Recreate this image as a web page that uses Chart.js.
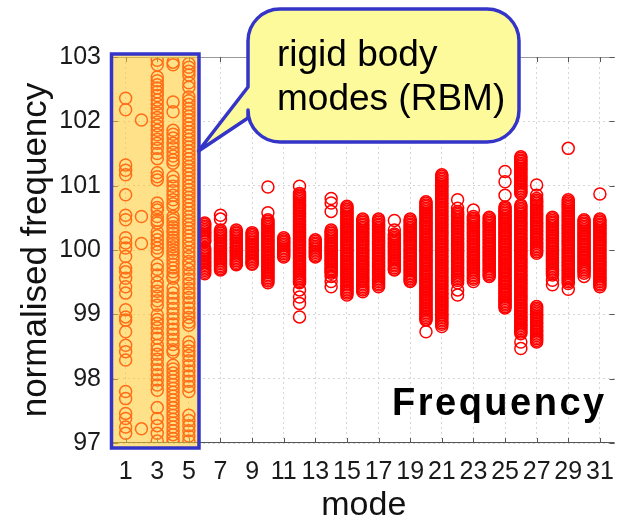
<!DOCTYPE html>
<html>
<head>
<meta charset="utf-8">
<script src="https://cdn.jsdelivr.net/npm/chart.js@4"></script>
<style>
  body { margin: 0; background: #fff; }
  #wrap { width: 628px; height: 520px; }
</style>
</head>
<body>
<div id="wrap"><canvas id="chart" width="628" height="520"></canvas></div>
<script>
// tick labels
const modeTicks = [1, 3, 5, 7, 9, 11, 13, 15, 17, 19, 21, 23, 25, 27, 29, 31];
const freqTicks = [97, 98, 99, 100, 101, 102, 103];

// normalised frequency samples per mode
// rigid body modes 1-5
const m1 = [102.36, 102.18, 101.32, 101.24, 101.17, 100.86, 100.54, 100.47, 100.19, 100.11, 100.03, 99.90, 99.72, 99.66, 99.56, 99.43, 99.33, 99.07, 98.96, 98.91, 98.73, 98.52, 98.42, 98.29, 97.80, 97.69, 97.46, 97.38, 97.25, 97.15];
const m2 = [102.02, 100.52, 100.10, 97.22];
const m3 = [102.95, 102.88, 102.69, 102.63, 102.57, 102.52, 102.46, 102.40, 102.33, 102.27, 102.20, 102.13, 102.06, 101.99, 101.93, 101.86, 101.79, 101.72, 101.66, 101.58, 101.50, 101.42, 101.20, 101.14, 101.09, 100.73, 100.66, 100.62, 100.52, 100.46, 100.42, 100.28, 100.22, 100.16, 100.09, 100.03, 99.97, 99.77, 99.70, 99.61, 99.50, 99.43, 99.36, 99.28, 99.21, 99.14, 98.99, 98.92, 98.86, 98.79, 98.70, 98.63, 98.52, 98.45, 98.38, 98.30, 98.22, 98.14, 98.06, 97.98, 97.90, 97.82, 97.55, 97.38, 97.27, 97.15, 97.03];
const m4 = [102.92, 102.88, 102.30, 102.15, 101.86, 101.80, 101.74, 101.66, 101.59, 101.52, 101.46, 101.40, 101.35, 101.14, 101.07, 100.99, 100.92, 100.85, 100.78, 100.72, 100.67, 100.52, 100.47, 100.42, 100.36, 100.31, 100.26, 100.20, 100.15, 100.10, 100.05, 100.00, 99.95, 99.90, 99.84, 99.78, 99.72, 99.66, 99.60, 99.56, 99.41, 99.33, 99.25, 99.17, 99.09, 99.01, 98.93, 98.85, 98.77, 98.69, 98.61, 98.53, 98.45, 98.41, 98.21, 98.15, 98.09, 98.03, 97.97, 97.91, 97.85, 97.79, 97.73, 97.67, 97.61, 97.55, 97.49, 97.43, 97.37, 97.31, 97.25, 97.19, 97.13, 97.07, 97.01];
const m5 = [102.90, 102.84, 102.78, 102.72, 102.60, 102.53, 102.38, 102.32, 102.26, 102.20, 102.14, 102.08, 102.02, 101.96, 101.90, 101.84, 101.78, 101.72, 101.66, 101.60, 101.54, 101.48, 101.42, 101.36, 101.30, 101.24, 101.18, 101.12, 101.06, 101.00, 100.94, 100.88, 100.82, 100.76, 100.70, 100.64, 100.58, 100.52, 100.46, 100.40, 100.34, 100.28, 100.22, 100.16, 100.10, 100.04, 99.97, 99.90, 99.82, 99.77, 99.70, 99.62, 99.55, 99.48, 99.40, 99.33, 99.26, 99.18, 99.10, 99.02, 98.95, 98.88, 98.83, 98.57, 98.50, 98.43, 98.36, 98.28, 98.20, 98.12, 98.04, 97.96, 97.88, 97.80, 97.43, 97.35, 97.27, 97.19, 97.11, 97.03];
// elastic modes 6-31
const m6 = [100.42, 100.395, 100.37, 100.345, 100.32, 100.295, 100.27, 100.245, 100.22, 100.195, 100.17, 100.145, 100.13, 100.03, 100.005, 99.98, 99.955, 99.93, 99.905, 99.88, 99.855, 99.83, 99.805, 99.78, 99.755, 99.73, 99.705, 99.68, 99.655, 99.63];
const m7 = [100.54, 100.48, 100.31, 100.285, 100.26, 100.235, 100.21, 100.185, 100.16, 100.135, 100.11, 100.085, 100.06, 100.035, 100.01, 99.985, 99.96, 99.935, 99.91, 99.885, 99.86, 99.835, 99.81, 99.785, 99.76, 99.735, 99.71, 99.69];
const m8 = [100.31, 100.285, 100.26, 100.235, 100.21, 100.185, 100.16, 100.135, 100.11, 100.085, 100.06, 100.035, 100.01, 99.985, 99.96, 99.935, 99.91, 99.885, 99.86, 99.835, 99.81, 99.785, 99.77];
const m9 = [100.27, 100.245, 100.22, 100.195, 100.17, 100.145, 100.12, 100.095, 100.07, 100.045, 100.02, 99.995, 99.97, 99.945, 99.92, 99.895, 99.87, 99.845, 99.82, 99.795, 99.78];
const m10 = [100.98, 100.58, 100.47, 100.445, 100.42, 100.395, 100.37, 100.345, 100.32, 100.295, 100.27, 100.245, 100.22, 100.195, 100.17, 100.145, 100.12, 100.095, 100.07, 100.045, 100.02, 99.995, 99.97, 99.945, 99.92, 99.895, 99.87, 99.845, 99.82, 99.795, 99.77, 99.745, 99.72, 99.695, 99.67, 99.645, 99.62, 99.595, 99.57, 99.545, 99.52, 99.49];
const m11 = [100.19, 100.165, 100.14, 100.115, 100.09, 100.065, 100.04, 100.015, 99.99, 99.965, 99.94, 99.915, 99.89];
const m12 = [100.99, 100.88, 100.855, 100.83, 100.805, 100.78, 100.755, 100.73, 100.705, 100.68, 100.655, 100.63, 100.605, 100.58, 100.555, 100.53, 100.505, 100.48, 100.455, 100.43, 100.405, 100.38, 100.355, 100.33, 100.305, 100.28, 100.255, 100.23, 100.205, 100.18, 100.155, 100.13, 100.105, 100.08, 100.055, 100.03, 100.005, 99.98, 99.955, 99.93, 99.905, 99.88, 99.855, 99.83, 99.805, 99.78, 99.755, 99.73, 99.705, 99.68, 99.655, 99.63, 99.605, 99.58, 99.555, 99.53, 99.505, 99.49, 99.38, 99.27, 99.17, 98.96];
const m13 = [100.16, 100.135, 100.11, 100.085, 100.06, 100.035, 100.01, 99.985, 99.96, 99.935, 99.91, 99.89];
const m14 = [100.80, 100.73, 100.60, 100.31, 100.285, 100.26, 100.235, 100.21, 100.185, 100.16, 100.135, 100.11, 100.085, 100.06, 100.035, 100.01, 99.985, 99.96, 99.935, 99.91, 99.885, 99.86, 99.835, 99.81, 99.785, 99.76, 99.735, 99.71, 99.685, 99.66, 99.64, 99.59, 99.51, 99.43];
const m15 = [100.68, 100.655, 100.63, 100.605, 100.58, 100.555, 100.53, 100.505, 100.48, 100.455, 100.43, 100.405, 100.38, 100.355, 100.33, 100.305, 100.28, 100.255, 100.23, 100.205, 100.18, 100.155, 100.13, 100.105, 100.08, 100.055, 100.03, 100.005, 99.98, 99.955, 99.93, 99.905, 99.88, 99.855, 99.83, 99.805, 99.78, 99.755, 99.73, 99.705, 99.68, 99.655, 99.63, 99.605, 99.58, 99.555, 99.53, 99.505, 99.48, 99.455, 99.43, 99.405, 99.38, 99.355, 99.33, 99.30];
const m16 = [100.48, 100.455, 100.43, 100.405, 100.38, 100.355, 100.33, 100.305, 100.28, 100.255, 100.23, 100.205, 100.18, 100.155, 100.13, 100.105, 100.08, 100.055, 100.03, 100.005, 99.98, 99.955, 99.93, 99.905, 99.88, 99.855, 99.83, 99.805, 99.78, 99.755, 99.73, 99.705, 99.68, 99.655, 99.63, 99.605, 99.58, 99.555, 99.53, 99.505, 99.48, 99.455, 99.43, 99.405, 99.38, 99.35];
const m17 = [100.48, 100.455, 100.43, 100.405, 100.38, 100.355, 100.33, 100.305, 100.28, 100.255, 100.23, 100.205, 100.18, 100.155, 100.13, 100.105, 100.08, 100.055, 100.03, 100.005, 99.98, 99.955, 99.93, 99.905, 99.88, 99.855, 99.83, 99.805, 99.78, 99.755, 99.73, 99.705, 99.68, 99.655, 99.63, 99.605, 99.58, 99.555, 99.53, 99.505, 99.48, 99.455, 99.43];
const m18 = [100.46, 100.31, 100.25, 100.225, 100.20, 100.175, 100.15, 100.125, 100.10, 100.075, 100.05, 100.025, 100.00, 99.975, 99.95, 99.925, 99.90, 99.875, 99.85, 99.825, 99.80, 99.775, 99.75, 99.725, 99.70, 99.69];
const m19 = [100.48, 100.455, 100.43, 100.405, 100.38, 100.355, 100.33, 100.305, 100.28, 100.255, 100.23, 100.205, 100.18, 100.155, 100.13, 100.105, 100.08, 100.055, 100.03, 100.005, 99.98, 99.955, 99.93, 99.905, 99.88, 99.855, 99.83, 99.805, 99.78, 99.755, 99.73, 99.705, 99.68, 99.655, 99.63, 99.605, 99.58, 99.555, 99.53, 99.51];
const m20 = [100.75, 100.725, 100.70, 100.675, 100.65, 100.625, 100.60, 100.575, 100.55, 100.525, 100.50, 100.475, 100.45, 100.425, 100.40, 100.375, 100.35, 100.325, 100.30, 100.275, 100.25, 100.225, 100.20, 100.175, 100.15, 100.125, 100.10, 100.075, 100.05, 100.025, 100.00, 99.975, 99.95, 99.925, 99.90, 99.875, 99.85, 99.825, 99.80, 99.775, 99.75, 99.725, 99.70, 99.675, 99.65, 99.625, 99.60, 99.575, 99.55, 99.525, 99.50, 99.475, 99.45, 99.425, 99.40, 99.375, 99.35, 99.325, 99.30, 99.275, 99.25, 99.225, 99.20, 99.175, 99.15, 99.125, 99.10, 99.075, 99.05, 99.025, 99.00, 98.975, 98.95, 98.925, 98.91, 98.73];
const m21 = [101.17, 101.145, 101.12, 101.095, 101.07, 101.045, 101.02, 100.995, 100.97, 100.945, 100.92, 100.895, 100.87, 100.845, 100.82, 100.795, 100.77, 100.745, 100.72, 100.695, 100.67, 100.645, 100.62, 100.595, 100.57, 100.545, 100.52, 100.495, 100.47, 100.445, 100.42, 100.395, 100.37, 100.345, 100.32, 100.295, 100.27, 100.245, 100.22, 100.195, 100.17, 100.145, 100.12, 100.095, 100.07, 100.045, 100.02, 99.995, 99.97, 99.945, 99.92, 99.895, 99.87, 99.845, 99.82, 99.795, 99.77, 99.745, 99.72, 99.695, 99.67, 99.645, 99.62, 99.595, 99.57, 99.545, 99.52, 99.495, 99.47, 99.445, 99.42, 99.395, 99.37, 99.345, 99.32, 99.295, 99.27, 99.245, 99.22, 99.195, 99.17, 99.145, 99.12, 99.095, 99.07, 99.045, 99.02, 98.995, 98.97, 98.945, 98.92, 98.895, 98.87, 98.845, 98.81];
const m22 = [100.78, 100.65, 100.60, 100.575, 100.55, 100.525, 100.50, 100.475, 100.45, 100.425, 100.40, 100.375, 100.35, 100.325, 100.30, 100.275, 100.25, 100.225, 100.20, 100.175, 100.15, 100.125, 100.10, 100.075, 100.05, 100.025, 100.00, 99.975, 99.95, 99.925, 99.90, 99.875, 99.85, 99.825, 99.80, 99.775, 99.75, 99.725, 99.70, 99.675, 99.65, 99.625, 99.60, 99.575, 99.55, 99.525, 99.49, 99.38, 99.30];
const m23 = [100.62, 100.52, 100.495, 100.47, 100.445, 100.42, 100.395, 100.37, 100.345, 100.32, 100.295, 100.27, 100.245, 100.22, 100.195, 100.17, 100.145, 100.12, 100.095, 100.07, 100.045, 100.02, 99.995, 99.97, 99.945, 99.92, 99.895, 99.87, 99.845, 99.82, 99.795, 99.77, 99.745, 99.72, 99.695, 99.67, 99.645, 99.62, 99.595, 99.57, 99.545, 99.51];
const m24 = [100.51, 100.485, 100.46, 100.435, 100.41, 100.385, 100.36, 100.335, 100.31, 100.285, 100.26, 100.235, 100.21, 100.185, 100.16, 100.135, 100.11, 100.085, 100.06, 100.035, 100.01, 99.985, 99.96, 99.935, 99.91, 99.885, 99.86, 99.835, 99.81, 99.785, 99.76, 99.735, 99.71, 99.685, 99.66, 99.635, 99.61, 99.59];
const m25 = [101.22, 101.06, 100.85, 100.67, 100.645, 100.62, 100.595, 100.57, 100.545, 100.52, 100.495, 100.47, 100.445, 100.42, 100.395, 100.37, 100.345, 100.32, 100.295, 100.27, 100.245, 100.22, 100.195, 100.17, 100.145, 100.12, 100.095, 100.07, 100.045, 100.02, 99.995, 99.97, 99.945, 99.92, 99.895, 99.87, 99.845, 99.82, 99.795, 99.77, 99.745, 99.72, 99.695, 99.67, 99.645, 99.62, 99.595, 99.57, 99.545, 99.52, 99.495, 99.47, 99.445, 99.42, 99.395, 99.37, 99.345, 99.32, 99.295, 99.27, 99.245, 99.22, 99.195, 99.17, 99.145, 99.12, 99.10];
const m26 = [101.45, 101.425, 101.40, 101.375, 101.35, 101.325, 101.30, 101.275, 101.25, 101.225, 101.20, 101.175, 101.15, 101.125, 101.10, 101.075, 101.05, 101.025, 101.00, 100.975, 100.95, 100.925, 100.90, 100.88, 100.70, 100.675, 100.65, 100.625, 100.60, 100.575, 100.55, 100.525, 100.50, 100.475, 100.45, 100.425, 100.40, 100.375, 100.35, 100.325, 100.30, 100.275, 100.25, 100.225, 100.20, 100.175, 100.15, 100.125, 100.10, 100.075, 100.05, 100.025, 100.00, 99.975, 99.95, 99.925, 99.90, 99.875, 99.85, 99.825, 99.80, 99.775, 99.75, 99.725, 99.70, 99.675, 99.65, 99.625, 99.60, 99.575, 99.55, 99.525, 99.50, 99.475, 99.45, 99.425, 99.40, 99.375, 99.35, 99.325, 99.30, 99.275, 99.25, 99.225, 99.20, 99.175, 99.15, 99.125, 99.10, 99.075, 99.05, 99.025, 99.00, 98.975, 98.95, 98.925, 98.90, 98.875, 98.85, 98.825, 98.80, 98.775, 98.75, 98.725, 98.70, 98.57, 98.47];
const m27 = [101.01, 100.85, 100.80, 100.775, 100.75, 100.725, 100.70, 100.675, 100.65, 100.625, 100.60, 100.575, 100.55, 100.525, 100.50, 100.475, 100.45, 100.425, 100.40, 100.375, 100.35, 100.325, 100.30, 100.275, 100.25, 100.225, 100.20, 100.175, 100.15, 100.125, 100.10, 100.075, 100.05, 100.025, 100.00, 99.975, 99.95, 99.12, 99.095, 99.07, 99.045, 99.02, 98.995, 98.97, 98.945, 98.92, 98.895, 98.87, 98.845, 98.82, 98.795, 98.77, 98.745, 98.72, 98.695, 98.67, 98.645, 98.62, 98.595, 98.57];
const m28 = [100.51, 100.485, 100.46, 100.435, 100.41, 100.385, 100.36, 100.335, 100.31, 100.285, 100.26, 100.235, 100.21, 100.185, 100.16, 100.135, 100.11, 100.085, 100.06, 100.035, 100.01, 99.985, 99.96, 99.935, 99.91, 99.885, 99.86, 99.835, 99.81, 99.785, 99.76, 99.735, 99.71, 99.685, 99.66, 99.635, 99.61, 99.53, 99.46];
const m29 = [101.58, 100.78, 100.755, 100.73, 100.705, 100.68, 100.655, 100.63, 100.605, 100.58, 100.555, 100.53, 100.505, 100.48, 100.455, 100.43, 100.405, 100.38, 100.355, 100.33, 100.305, 100.28, 100.255, 100.23, 100.205, 100.18, 100.155, 100.13, 100.105, 100.08, 100.055, 100.03, 100.005, 99.98, 99.955, 99.93, 99.905, 99.88, 99.855, 99.83, 99.805, 99.78, 99.755, 99.73, 99.705, 99.68, 99.655, 99.63, 99.605, 99.58, 99.555, 99.53, 99.505, 99.48, 99.39];
const m30 = [100.47, 100.445, 100.42, 100.395, 100.37, 100.345, 100.32, 100.295, 100.27, 100.245, 100.22, 100.195, 100.17, 100.145, 100.12, 100.095, 100.07, 100.045, 100.02, 99.995, 99.97, 99.945, 99.92, 99.895, 99.87, 99.845, 99.82, 99.795, 99.77, 99.745, 99.72, 99.695, 99.67, 99.64, 99.59];
const m31 = [100.87, 100.48, 100.455, 100.43, 100.405, 100.38, 100.355, 100.33, 100.305, 100.28, 100.255, 100.23, 100.205, 100.18, 100.155, 100.13, 100.105, 100.08, 100.055, 100.03, 100.005, 99.98, 99.955, 99.93, 99.905, 99.88, 99.855, 99.83, 99.805, 99.78, 99.755, 99.73, 99.705, 99.68, 99.655, 99.63, 99.605, 99.58, 99.555, 99.53, 99.505, 99.48, 99.455, 99.43];

const modeSamples = [m1, m2, m3, m4, m5, m6, m7, m8, m9, m10, m11, m12, m13, m14, m15, m16,
  m17, m18, m19, m20, m21, m22, m23, m24, m25, m26, m27, m28, m29, m30, m31];

const points = [];
modeSamples.forEach((vals, i) => {
  vals.forEach(v => points.push({ x: i + 1, y: v }));
});

const BLUE = '#3434c8';
const FONT = 'Liberation Sans, Arial, sans-serif';

// frame, inward ticks, RBM box, callout and label
const overlay = {
  id: 'overlay',
  afterDatasetsDraw(chart) {
    const { ctx, chartArea: a, scales: { x, y } } = chart;
    ctx.save();
    // frame (right edge sits just outside the canvas)
    ctx.lineWidth = 1;
    ctx.strokeStyle = '#999';
    ctx.beginPath();
    ctx.moveTo(a.left, a.top + 0.5); ctx.lineTo(a.right, a.top + 0.5);
    ctx.stroke();
    ctx.strokeStyle = '#555';
    ctx.beginPath();
    ctx.moveTo(a.left, a.bottom - 0.5); ctx.lineTo(a.right, a.bottom - 0.5);
    modeTicks.forEach(t => {
      const px = Math.round(x.getPixelForValue(t)) + 0.5;
      ctx.moveTo(px, a.bottom); ctx.lineTo(px, a.bottom - 5);
      ctx.moveTo(px, a.top); ctx.lineTo(px, a.top + 5);
    });
    freqTicks.forEach(t => {
      const py = Math.round(y.getPixelForValue(t)) + 0.5;
      ctx.moveTo(a.left, py); ctx.lineTo(a.left + 5, py);
      ctx.moveTo(a.right, py); ctx.lineTo(a.right - 5, py);
    });
    ctx.stroke();

    // rigid body modes box
    const bx1 = a.left - 1.5;
    const bx2 = x.getPixelForValue(5.64);
    const by1 = a.top - 3;
    const by2 = a.bottom + 5;
    ctx.fillStyle = 'rgba(255, 200, 40, 0.55)';
    ctx.fillRect(bx1, by1, bx2 - bx1, by2 - by1);
    ctx.strokeStyle = BLUE;
    ctx.lineWidth = 3.5;
    ctx.strokeRect(bx1, by1, bx2 - bx1, by2 - by1);

    // callout bubble
    const L = 248, R = 519, T = 9, B = 142, r = 32;
    ctx.beginPath();
    ctx.moveTo(L + r, T);
    ctx.lineTo(R - r, T);
    ctx.arcTo(R, T, R, T + r, r);
    ctx.lineTo(R, B - r);
    ctx.arcTo(R, B, R - r, B, r);
    ctx.lineTo(L + r, B);
    ctx.arcTo(L, B, L, B - r, r);
    ctx.lineTo(L, 118);
    ctx.lineTo(bx2 - 0.5, 151);
    ctx.lineTo(L, 87);
    ctx.lineTo(L, T + r);
    ctx.arcTo(L, T, L + r, T, r);
    ctx.closePath();
    ctx.fillStyle = '#fdfa9c';
    ctx.fill();
    ctx.lineJoin = 'round';
    ctx.strokeStyle = BLUE;
    ctx.lineWidth = 3.5;
    ctx.stroke();

    ctx.fillStyle = '#000';
    ctx.font = '37px ' + FONT;
    ctx.textAlign = 'left';
    ctx.textBaseline = 'alphabetic';
    ctx.fillText('rigid body', 277, 66);
    ctx.fillText('modes (RBM)', 277, 110);

    ctx.font = 'bold 38px ' + FONT;
    ctx.letterSpacing = '2.5px';
    ctx.fillText('Frequency', 392, 415);
    ctx.restore();
  }
};

new Chart(document.getElementById('chart'), {
  type: 'scatter',
  data: {
    datasets: [{
      label: 'normalised frequency',
      data: points,
      pointStyle: 'circle',
      pointRadius: 6,
      pointHoverRadius: 6,
      borderWidth: 1.5,
      borderColor: '#ff0000',
      backgroundColor: 'rgba(0,0,0,0)'
    }]
  },
  options: {
    responsive: false,
    devicePixelRatio: 1,
    animation: false,
    layout: { padding: { top: 57, right: 0, left: 0, bottom: 0 } },
    plugins: { legend: { display: false }, tooltip: { enabled: false } },
    scales: {
      x: {
        type: 'linear',
        min: 0.2,
        max: 31.93,
        afterBuildTicks: s => { s.ticks = modeTicks.map(v => ({ value: v })); },
        afterFit: s => { s.height = 77; },
        ticks: { autoSkip: false, maxRotation: 0, padding: 14, color: '#1a1a1a', font: { family: FONT, size: 25 } },
        grid: { color: '#d6d6d6', drawTicks: false },
        border: { display: false, dash: [2, 3] },
        title: { display: true, text: 'mode', color: '#111', font: { family: FONT, size: 34, lineHeight: 0.85 }, padding: 0 }
      },
      y: {
        min: 97,
        max: 103,
        afterBuildTicks: s => { s.ticks = freqTicks.map(v => ({ value: v })); },
        afterFit: s => { s.width = 113; },
        ticks: { padding: 12, color: '#1a1a1a', font: { family: FONT, size: 25 } },
        grid: { color: '#d6d6d6', drawTicks: false },
        border: { display: false, dash: [2, 3] },
        title: { display: true, text: 'normalised frequency', color: '#111', font: { family: FONT, size: 35 }, padding: { top: 15, bottom: 0 } }
      }
    }
  },
  plugins: [overlay]
});
</script>
</body>
</html>
